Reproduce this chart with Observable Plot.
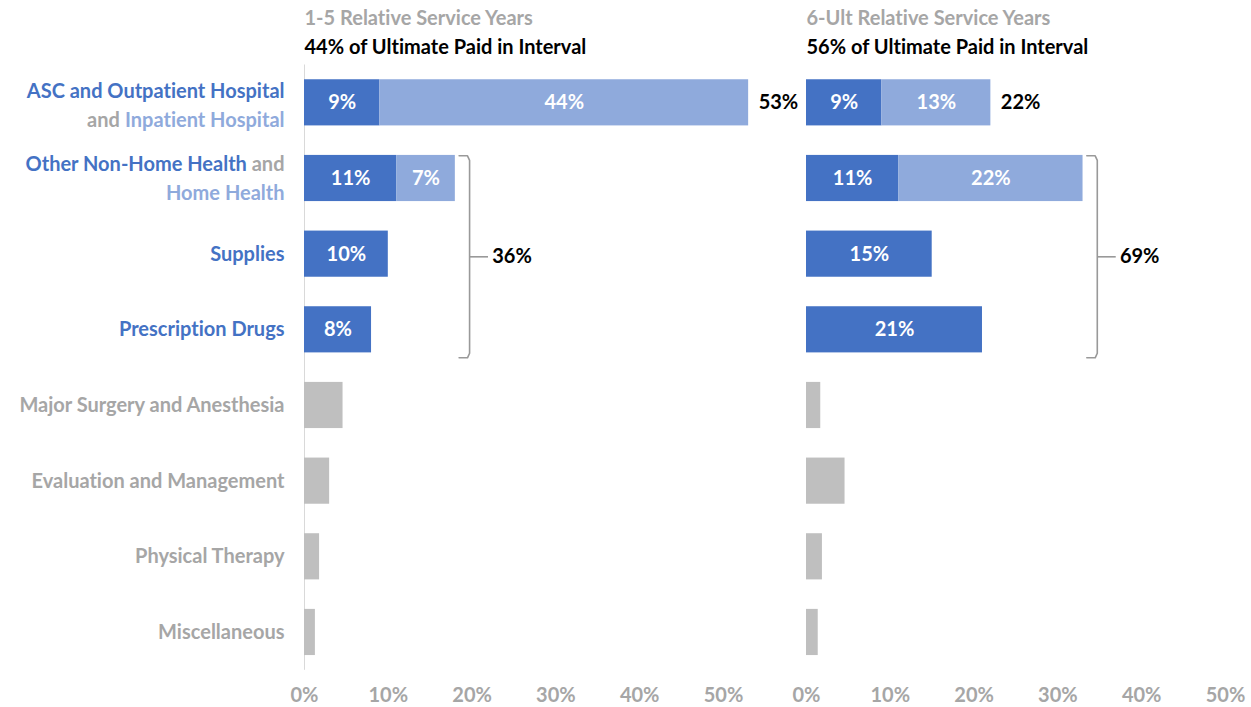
<!DOCTYPE html>
<html>
<head>
<meta charset="utf-8">
<script src="https://cdn.jsdelivr.net/npm/d3@7"></script>
<script src="https://cdn.jsdelivr.net/npm/@observablehq/plot@0.6"></script>
<style>
  body { margin: 0; background: #fff; }
  #chart { width: 1251px; height: 707px; }
  #chart svg text { font-variant-ligatures: none; }
</style>
</head>
<body>
<div id="chart"></div>
<script>
// Share of interval paid (%) by service category, two development intervals.
const categories = [
  "ASC and Outpatient Hospital",
  "Other Non-Home Health",
  "Supplies",
  "Prescription Drugs",
  "Major Surgery and Anesthesia",
  "Evaluation and Management",
  "Physical Therapy",
  "Miscellaneous"
];
const highlighted = [true, true, true, true, false, false, false, false];
const intervals = ["1-5 Relative Service Years", "6-Ult Relative Service Years"];
const intervalShares = [44, 56]; // % of ultimate paid in each interval

// first segment: ASC/Outpatient, Other Non-Home Health, Supplies, Rx, and the grey categories
const primary15 = [9, 11, 10, 8, 4.6, 3.0, 1.8, 1.3];
// second segment: Inpatient Hospital, Home Health
const secondary15 = [44, 7, 0, 0, 0, 0, 0, 0];
const primaryUlt = [9, 11, 15, 21, 1.7, 4.6, 1.9, 1.4];
const secondaryUlt = [13, 22, 0, 0, 0, 0, 0, 0];
const xTicks = [0, 10, 20, 30, 40, 50];

const BLUE = "#4472C4", LIGHT = "#8FAADC", GREY_BAR = "#BFBFBF", GREY_TEXT = "#A6A6A6";
const FONT = "Lato, 'Open Sans', sans-serif";
const FONT_SIZE = 20;

// long-form segment table
const primaries = [primary15, primaryUlt];
const secondaries = [secondary15, secondaryUlt];
const segments = [];
const totals = [];
intervals.forEach((interval, p) => {
  categories.forEach((cat, i) => {
    const a = primaries[p][i], b = secondaries[p][i];
    segments.push({interval, row: i, x1: 0, x2: a, value: a, kind: highlighted[i] ? "primary" : "other"});
    if (b > 0) segments.push({interval, row: i, x1: a, x2: a + b, value: b, kind: "secondary"});
    totals.push({interval, row: i, total: a + b});
  });
});
const fillOf = {primary: BLUE, secondary: LIGHT, other: GREY_BAR};
const half = 0.305; // half bar thickness in row units

// bracket grouping rows 1..3 in each interval
const grouped = [1, 2, 3];
const brackets = intervals.map(interval => {
  const t = totals.filter(d => d.interval === interval && grouped.includes(d.row));
  return {interval, max: d3.max(t, d => d.total), sum: d3.sum(t, d => d.total),
          top: grouped[0] - 0.3, bottom: grouped[grouped.length - 1] + 0.37};
});
const bracketPath = brackets.flatMap(b => [
  {interval: b.interval, x: b.max + 0.45, y: b.top},
  {interval: b.interval, x: b.max + 1.45, y: b.top},
  {interval: b.interval, x: b.max + 1.7, y: b.top + 0.06},
  {interval: b.interval, x: b.max + 1.7, y: b.bottom - 0.06},
  {interval: b.interval, x: b.max + 1.45, y: b.bottom},
  {interval: b.interval, x: b.max + 0.45, y: b.bottom}
]);

// text measurement for multi-colour category labels
const ctx = document.createElement("canvas").getContext("2d");
ctx.font = `bold ${FONT_SIZE}px ${FONT}`;
const w = s => ctx.measureText(s).width;

const labelGap = 20;
function piece(text, row, dy, fill, shift = 0) {
  return Plot.text([{interval: intervals[0], row, text}], {
    fx: "interval", x: () => 0, y: "row", text: "text",
    dy, dx: -labelGap - shift, textAnchor: "end", fill
  });
}
const labelMarks = [
  piece(categories[0], 0, -11, BLUE),
  piece("Inpatient Hospital", 0, 18, LIGHT),
  piece("and", 0, 18, GREY_TEXT, w("Inpatient Hospital") + w(" ")),
  piece("and", 1, -14, GREY_TEXT),
  piece(categories[1], 1, -14, BLUE, w(" and")),
  piece("Home Health", 1, 15.5, LIGHT),
  ...categories.slice(2).map((c, k) => piece(c, k + 2, 0, highlighted[k + 2] ? BLUE : GREY_TEXT))
];

const titles = intervals.map((interval, p) => ({interval, share: `${intervalShares[p]}% of Ultimate Paid in Interval`}));

const chart = Plot.plot({
  width: 1251,
  height: 707,
  marginLeft: 303,
  marginRight: 25,
  marginTop: 64.5,
  marginBottom: 37.2,
  style: {fontFamily: FONT, fontSize: `${FONT_SIZE}px`, fontWeight: "bold", color: GREY_TEXT, background: "#fff"},
  fx: {domain: intervals, paddingInner: 0.165, paddingOuter: 0, axis: null},
  x: {domain: [0, 50], axis: null},
  y: {domain: [-0.5, 7.5], reverse: true, axis: null},
  marks: [
    Plot.ruleX([{interval: intervals[0]}], {fx: "interval", x: () => 0, stroke: "#D9D9D9", strokeWidth: 1}),
    Plot.rectX(segments, {
      fx: "interval", x1: "x1", x2: "x2",
      y1: d => d.row - half, y2: d => d.row + half,
      fill: d => fillOf[d.kind]
    }),
    Plot.text(segments.filter(d => d.kind !== "other"), {
      fx: "interval", x: d => (d.x1 + d.x2) / 2, y: "row",
      text: d => `${d.value}%`, fill: "white"
    }),
    Plot.text(totals.filter(d => d.row === 0), {
      fx: "interval", x: "total", y: "row", text: d => `${d.total}%`,
      dx: 10, textAnchor: "start", fill: "#000"
    }),
    Plot.line(bracketPath, {
      fx: "interval", x: "x", y: "y", z: "interval",
      stroke: "#999", strokeWidth: 1.6, strokeLinejoin: "round"
    }),
    Plot.link(brackets, {
      fx: "interval", x1: d => d.max + 1.7, x2: d => d.max + 3.9,
      y1: d => (d.top + d.bottom) / 2, y2: d => (d.top + d.bottom) / 2,
      stroke: "#999", strokeWidth: 1.6
    }),
    Plot.text(brackets, {
      fx: "interval", x: d => d.max + 4.4, y: d => (d.top + d.bottom) / 2,
      text: d => `${d.sum}%`, textAnchor: "start", fill: "#000"
    }),
    Plot.text(titles, {
      fx: "interval", frameAnchor: "top-left", text: "interval",
      textAnchor: "start", lineAnchor: "middle", dy: -46.5, fill: GREY_TEXT
    }),
    Plot.text(titles, {
      fx: "interval", frameAnchor: "top-left", text: "share",
      textAnchor: "start", lineAnchor: "middle", dy: -17.5, fill: "#000"
    }),
    Plot.axisX({
      ticks: xTicks, tickFormat: d => `${d}%`, tickSize: 0, tickPadding: 17,
      fill: GREY_TEXT, fontWeight: "bold"
    }),
    ...labelMarks
  ]
});
document.getElementById("chart").appendChild(chart);
</script>
</body>
</html>
